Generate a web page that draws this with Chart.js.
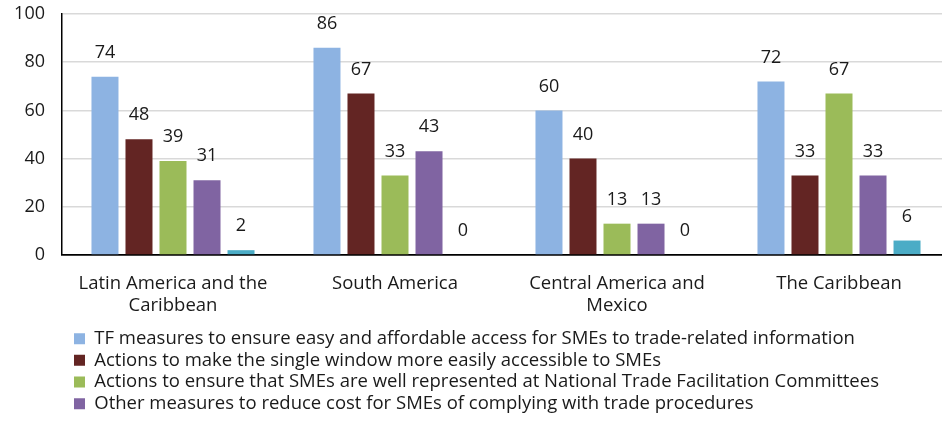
<!DOCTYPE html>
<html>
<head>
<meta charset="utf-8">
<script src="https://cdn.jsdelivr.net/npm/chart.js@4/dist/chart.umd.min.js"></script>
<style>
  html, body { margin: 0; padding: 0; background: #fff; overflow: hidden; }
  #wrap { width: 950px; height: 423px; }
</style>
</head>
<body>
<div id="wrap"><canvas id="smeChart"></canvas></div>
<script>
const regions = [
    ["Latin America and the", "Caribbean"],
    "South America",
    ["Central America and", "Mexico"],
    "The Caribbean"
];
const seriesNames = [
    "TF measures to ensure easy and affordable access for SMEs to trade-related information",
    "Actions to make the single window more easily accessible to SMEs",
    "Actions to ensure that SMEs are well represented at National Trade Facilitation Committees",
    "Other measures to reduce cost for SMEs of complying with trade procedures",
    "Other"
];
const tfInfo = [74, 86, 60, 72];
const singleWindow = [48, 67, 40, 33];
const committees = [39, 33, 13, 67];
const otherCost = [31, 43, 13, 33];
const fifthSeries = [2, 0, 0, 6];
const yTicks = [0, 20, 40, 60, 80, 100];

const colors = ["#8db3e2", "#632523", "#9bbb59", "#8064a2", "#4bacc6"];
const FONT = "'Open Sans'";
const NUM_FS = 18;
const TXT_FS = 18.5;

const valueLabels = {
    id: "valueLabels",
    afterDatasetsDraw(chart) {
        const ctx = chart.ctx;
        ctx.save();
        ctx.font = NUM_FS + "px " + FONT;
        ctx.fillStyle = "#1a1a1a";
        ctx.textAlign = "center";
        ctx.textBaseline = "middle";
        chart.data.datasets.forEach((ds, i) => {
            chart.getDatasetMeta(i).data.forEach((bar, j) => {
                ctx.fillText(ds.data[j], bar.x, bar.y - 24);
            });
        });
        ctx.restore();
    }
};

// move legend to the right a bit like in the original
const legendShift = {
    id: "legendShift",
    afterLayout(chart) {
        chart.legend.left = 74 - chart.options.plugins.legend.labels.padding;
    }
};

const allData = [tfInfo, singleWindow, committees, otherCost, fifthSeries];

new Chart("smeChart", {
    type: "bar",
    data: {
        labels: regions,
        datasets: allData.map((d, i) => ({
            label: seriesNames[i],
            data: d,
            backgroundColor: colors[i],
            borderWidth: 0,
            categoryPercentage: 0.766,
            barPercentage: 0.794
        }))
    },
    options: {
        responsive: true,
        maintainAspectRatio: false,
        animation: false,
        layout: { padding: { top: 14, right: 0, left: 0, bottom: 0 } },
        scales: {
            x: {
                grid: { display: false },
                border: { color: "#000", width: 1.5 },
                ticks: {
                    color: "#1a1a1a",
                    font: { family: FONT, size: TXT_FS, lineHeight: 1.22 },
                    padding: 9,
                    maxRotation: 0
                },
                afterFit(scale) { scale.height = 71.2; }
            },
            y: {
                min: 0,
                max: 100,
                afterBuildTicks(scale) { scale.ticks = yTicks.map(v => ({ value: v })); },
                grid: {
                    drawTicks: true,
                    tickLength: 17,
                    tickColor: "rgba(0,0,0,0)",
                    lineWidth: 1.5,
                    color: c => c.tick && c.tick.value === 0 ? "#000" : "#d9d9d9"
                },
                border: { color: "#000", width: 1.5 },
                ticks: {
                    color: "#1a1a1a",
                    font: { family: FONT, size: NUM_FS },
                    padding: 0
                },
                afterFit(scale) { scale.width = 62; }
            }
        },
        plugins: {
            legend: {
                position: "bottom",
                align: "start",
                labels: {
                    boxWidth: 11,
                    boxHeight: 11,
                    padding: 3.2,
                    color: "#1a1a1a",
                    font: { family: FONT, size: TXT_FS },
                    filter: item => item.datasetIndex < 4
                }
            },
            tooltip: { enabled: false }
        }
    },
    plugins: [valueLabels, legendShift]
});
</script>
</body>
</html>
